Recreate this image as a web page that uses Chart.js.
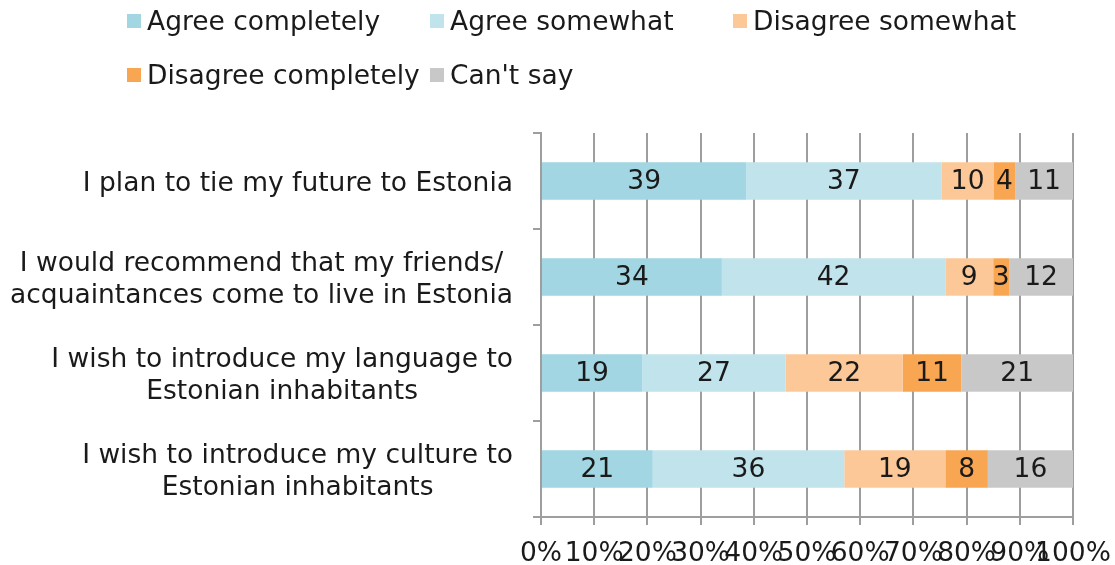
<!DOCTYPE html>
<html>
<head>
<meta charset="utf-8">
<script src="https://cdn.jsdelivr.net/npm/chart.js@4/dist/chart.umd.min.js"></script>
<style>
  body { margin: 0; background: #fff; }
  #wrap { position: relative; width: 1115px; height: 565px; }
  #legend { position: absolute; left: 127px; top: 5px; width: 960px; font: 26.5px "DejaVu Sans", Verdana, sans-serif; color: #1a1a1a; }
  .item { position: absolute; white-space: nowrap; display: flex; align-items: center; }
  .box { width: 14px; height: 14px; margin-right: 6px; }
</style>
</head>
<body>
<div id="wrap">
  <canvas id="myChart" width="1115" height="565"></canvas>
  <div id="legend"></div>
</div>
<script>
let categories = [
    'I plan to tie my future to Estonia',
    'I would recommend that my friends/\nacquaintances come to live in Estonia',
    'I wish to introduce my language to\nEstonian inhabitants',
    'I wish to introduce my culture to\nEstonian inhabitants'
];
let seriesNames = ['Agree completely', 'Agree somewhat', 'Disagree somewhat', 'Disagree completely', "Can't say"];
let agreeCompletely = [39, 34, 19, 21];
let agreeSomewhat = [37, 42, 27, 36];
let disagreeSomewhat = [10, 9, 22, 19];
let disagreeCompletely = [4, 3, 11, 8];
let cantSay = [11, 12, 21, 16];
let xTicks = ['0%', '10%', '20%', '30%', '40%', '50%', '60%', '70%', '80%', '90%', '100%'];
let colorHex = ['#a2d6e2', '#c1e3eb', '#fcc898', '#f9a653', '#c8c8c8'];

let FONT = '"DejaVu Sans", Verdana, sans-serif';
let SIZE = 26.5;
let series = [agreeCompletely, agreeSomewhat, disagreeSomewhat, disagreeCompletely, cantSay];
let totals = categories.map((c, i) => series.reduce((s, arr) => s + arr[i], 0));

// 100% stacked: share of each row total
let datasets = series.map((arr, k) => ({
    label: seriesNames[k],
    raw: arr,
    data: arr.map((v, i) => v / totals[i] * 100),
    backgroundColor: colorHex[k],
    borderWidth: 0,
    barPercentage: 0.39,
    categoryPercentage: 1
}));

// legend laid out in columns like the original
let legendEl = document.getElementById('legend');
seriesNames.forEach((name, k) => {
    let div = document.createElement('div');
    div.className = 'item';
    div.style.left = (k % 3) * 303 + 'px';
    div.style.top = Math.floor(k / 3) * 54 + 'px';
    div.innerHTML = '<span class="box" style="background:' + colorHex[k] + '"></span>' + name;
    legendEl.appendChild(div);
});

let valueLabels = {
    id: 'valueLabels',
    afterDatasetsDraw(chart) {
        let ctx = chart.ctx;
        ctx.save();
        ctx.font = SIZE + 'px ' + FONT;
        ctx.fillStyle = '#1a1a1a';
        ctx.textAlign = 'center';
        ctx.textBaseline = 'middle';
        chart.data.datasets.forEach((ds, k) => {
            chart.getDatasetMeta(k).data.forEach((bar, i) => {
                let cx = (bar.x + bar.base) / 2;
                ctx.fillText(ds.raw[i], cx, bar.y + 1);
            });
        });
        ctx.restore();
    }
};

// category labels: block right-aligned, lines centred on each other
let categoryLabels = {
    id: 'categoryLabels',
    afterDraw(chart) {
        let ctx = chart.ctx;
        let y = chart.scales.y;
        ctx.save();
        ctx.font = SIZE + 'px ' + FONT;
        ctx.fillStyle = '#1a1a1a';
        ctx.textAlign = 'center';
        ctx.textBaseline = 'middle';
        let right = chart.chartArea.left - 28;
        categories.forEach((label, i) => {
            let lines = label.split('\n');
            let w = Math.max(...lines.map(l => ctx.measureText(l).width));
            let cx = right - w / 2;
            let cy = y.getPixelForValue(i) + 3;
            let lh = 32;
            lines.forEach((l, j) => {
                ctx.fillText(l, cx, cy + (j - (lines.length - 1) / 2) * lh);
            });
        });
        ctx.restore();
    }
};

let ctx = document.getElementById('myChart').getContext('2d');
let myChart = new Chart(ctx, {
    type: 'bar',
    data: {
        labels: categories,
        datasets: datasets
    },
    plugins: [valueLabels, categoryLabels],
    options: {
        indexAxis: 'y',
        responsive: false,
        animation: false,
        layout: { padding: { top: 133, right: 42, bottom: 0, left: 0 } },
        plugins: {
            legend: { display: false },
            tooltip: { enabled: false }
        },
        scales: {
            x: {
                stacked: true,
                min: 0,
                max: 100,
                ticks: {
                    stepSize: 10,
                    autoSkip: false,
                    maxRotation: 0,
                    padding: 13,
                    color: '#1a1a1a',
                    font: { family: FONT, size: SIZE },
                    callback: (v, i) => xTicks[i]
                },
                grid: { color: '#9e9e9e', lineWidth: 2, tickLength: 8 },
                border: { color: '#9e9e9e', width: 2 },
                afterFit: (scale) => {
                    scale.height = 48;
                    scale.paddingRight = 0;
                    scale.paddingLeft = 0;
                }
            },
            y: {
                stacked: true,
                ticks: { display: false },
                grid: { drawOnChartArea: false, color: '#9e9e9e', lineWidth: 2, tickLength: 8, offset: true },
                border: { color: '#9e9e9e', width: 2 },
                afterFit: (scale) => { scale.width = 541; }
            }
        }
    }
});
</script>
</body>
</html>
